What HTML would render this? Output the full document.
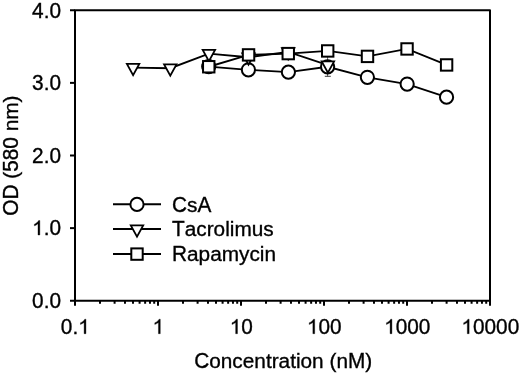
<!DOCTYPE html>
<html><head><meta charset="utf-8"><style>
html,body{margin:0;padding:0;background:#fff;}
svg{display:block;will-change:transform;}
text{font-family:"Liberation Sans",sans-serif;font-size:20.8px;fill:#000;stroke:#000;stroke-width:0.35px;}
</style></head><body>
<svg width="520" height="374" viewBox="0 0 520 374">
<path d="M75 10.25H490V300.75H75Z" fill="none" stroke="#000" stroke-width="2.0" stroke-linejoin="round"/>
<line x1="70" y1="300.75" x2="75" y2="300.75" stroke="#000" stroke-width="2.0"/>
<line x1="70" y1="228.125" x2="75" y2="228.125" stroke="#000" stroke-width="2.0"/>
<line x1="70" y1="155.5" x2="75" y2="155.5" stroke="#000" stroke-width="2.0"/>
<line x1="70" y1="82.875" x2="75" y2="82.875" stroke="#000" stroke-width="2.0"/>
<line x1="70" y1="10.25" x2="75" y2="10.25" stroke="#000" stroke-width="2.0"/>
<line x1="75.0" y1="300.75" x2="75.0" y2="305.75" stroke="#000" stroke-width="2.0"/>
<line x1="99.99" y1="300.75" x2="99.99" y2="303.75" stroke="#000" stroke-width="2.0"/>
<line x1="114.60" y1="300.75" x2="114.60" y2="303.75" stroke="#000" stroke-width="2.0"/>
<line x1="124.97" y1="300.75" x2="124.97" y2="303.75" stroke="#000" stroke-width="2.0"/>
<line x1="133.01" y1="300.75" x2="133.01" y2="303.75" stroke="#000" stroke-width="2.0"/>
<line x1="139.59" y1="300.75" x2="139.59" y2="303.75" stroke="#000" stroke-width="2.0"/>
<line x1="145.14" y1="300.75" x2="145.14" y2="303.75" stroke="#000" stroke-width="2.0"/>
<line x1="149.96" y1="300.75" x2="149.96" y2="303.75" stroke="#000" stroke-width="2.0"/>
<line x1="154.20" y1="300.75" x2="154.20" y2="303.75" stroke="#000" stroke-width="2.0"/>
<line x1="158.0" y1="300.75" x2="158.0" y2="305.75" stroke="#000" stroke-width="2.0"/>
<line x1="182.99" y1="300.75" x2="182.99" y2="303.75" stroke="#000" stroke-width="2.0"/>
<line x1="197.60" y1="300.75" x2="197.60" y2="303.75" stroke="#000" stroke-width="2.0"/>
<line x1="207.97" y1="300.75" x2="207.97" y2="303.75" stroke="#000" stroke-width="2.0"/>
<line x1="216.01" y1="300.75" x2="216.01" y2="303.75" stroke="#000" stroke-width="2.0"/>
<line x1="222.59" y1="300.75" x2="222.59" y2="303.75" stroke="#000" stroke-width="2.0"/>
<line x1="228.14" y1="300.75" x2="228.14" y2="303.75" stroke="#000" stroke-width="2.0"/>
<line x1="232.96" y1="300.75" x2="232.96" y2="303.75" stroke="#000" stroke-width="2.0"/>
<line x1="237.20" y1="300.75" x2="237.20" y2="303.75" stroke="#000" stroke-width="2.0"/>
<line x1="241.0" y1="300.75" x2="241.0" y2="305.75" stroke="#000" stroke-width="2.0"/>
<line x1="265.99" y1="300.75" x2="265.99" y2="303.75" stroke="#000" stroke-width="2.0"/>
<line x1="280.60" y1="300.75" x2="280.60" y2="303.75" stroke="#000" stroke-width="2.0"/>
<line x1="290.97" y1="300.75" x2="290.97" y2="303.75" stroke="#000" stroke-width="2.0"/>
<line x1="299.01" y1="300.75" x2="299.01" y2="303.75" stroke="#000" stroke-width="2.0"/>
<line x1="305.59" y1="300.75" x2="305.59" y2="303.75" stroke="#000" stroke-width="2.0"/>
<line x1="311.14" y1="300.75" x2="311.14" y2="303.75" stroke="#000" stroke-width="2.0"/>
<line x1="315.96" y1="300.75" x2="315.96" y2="303.75" stroke="#000" stroke-width="2.0"/>
<line x1="320.20" y1="300.75" x2="320.20" y2="303.75" stroke="#000" stroke-width="2.0"/>
<line x1="324.0" y1="300.75" x2="324.0" y2="305.75" stroke="#000" stroke-width="2.0"/>
<line x1="348.99" y1="300.75" x2="348.99" y2="303.75" stroke="#000" stroke-width="2.0"/>
<line x1="363.60" y1="300.75" x2="363.60" y2="303.75" stroke="#000" stroke-width="2.0"/>
<line x1="373.97" y1="300.75" x2="373.97" y2="303.75" stroke="#000" stroke-width="2.0"/>
<line x1="382.01" y1="300.75" x2="382.01" y2="303.75" stroke="#000" stroke-width="2.0"/>
<line x1="388.59" y1="300.75" x2="388.59" y2="303.75" stroke="#000" stroke-width="2.0"/>
<line x1="394.14" y1="300.75" x2="394.14" y2="303.75" stroke="#000" stroke-width="2.0"/>
<line x1="398.96" y1="300.75" x2="398.96" y2="303.75" stroke="#000" stroke-width="2.0"/>
<line x1="403.20" y1="300.75" x2="403.20" y2="303.75" stroke="#000" stroke-width="2.0"/>
<line x1="407.0" y1="300.75" x2="407.0" y2="305.75" stroke="#000" stroke-width="2.0"/>
<line x1="431.99" y1="300.75" x2="431.99" y2="303.75" stroke="#000" stroke-width="2.0"/>
<line x1="446.60" y1="300.75" x2="446.60" y2="303.75" stroke="#000" stroke-width="2.0"/>
<line x1="456.97" y1="300.75" x2="456.97" y2="303.75" stroke="#000" stroke-width="2.0"/>
<line x1="465.01" y1="300.75" x2="465.01" y2="303.75" stroke="#000" stroke-width="2.0"/>
<line x1="471.59" y1="300.75" x2="471.59" y2="303.75" stroke="#000" stroke-width="2.0"/>
<line x1="477.14" y1="300.75" x2="477.14" y2="303.75" stroke="#000" stroke-width="2.0"/>
<line x1="481.96" y1="300.75" x2="481.96" y2="303.75" stroke="#000" stroke-width="2.0"/>
<line x1="486.20" y1="300.75" x2="486.20" y2="303.75" stroke="#000" stroke-width="2.0"/>
<line x1="490.0" y1="300.75" x2="490.0" y2="305.75" stroke="#000" stroke-width="2.0"/>
<text transform="translate(32.09 308.05) scale(1.0 1.06)">0</text>
<text transform="translate(43.65 308.05)">.</text>
<text transform="translate(49.43 308.05) scale(1.0 1.06)">0</text>
<path d="M39.83 235.03L38.01 235.03L38.01 223.73C37.57 224.13 36.99 224.55 36.28 224.95C35.57 225.36 34.93 225.66 34.37 225.86L34.37 224.14C35.39 223.68 36.27 223.12 37.03 222.46C37.79 221.80 38.33 221.15 38.65 220.53L39.83 220.53Z" stroke="#000" stroke-width="0.35"/>
<text transform="translate(43.65 235.03)">.</text>
<text transform="translate(49.43 235.03) scale(1.0 1.06)">0</text>
<text transform="translate(32.09 162.80) scale(1.0 1.06)">2</text>
<text transform="translate(43.65 162.80)">.</text>
<text transform="translate(49.43 162.80) scale(1.0 1.06)">0</text>
<text transform="translate(32.09 90.28) scale(1.0 1.06)">3</text>
<text transform="translate(43.65 90.28)">.</text>
<text transform="translate(49.43 90.28) scale(1.0 1.06)">0</text>
<text transform="translate(32.09 17.95) scale(1.0 1.06)">4</text>
<text transform="translate(43.65 17.95)">.</text>
<text transform="translate(49.43 17.95) scale(1.0 1.06)">0</text>
<text transform="translate(60.84 333.70) scale(1.0 1.03)">0</text>
<text transform="translate(72.41 333.70)">.</text>
<path d="M85.94 333.70L84.11 333.70L84.11 322.40C83.67 322.80 83.09 323.22 82.38 323.62C81.67 324.03 81.03 324.33 80.47 324.53L80.47 322.81C81.49 322.35 82.37 321.79 83.14 321.13C83.90 320.47 84.44 319.82 84.75 319.20L85.94 319.20Z" stroke="#000" stroke-width="0.35"/>
<path d="M160.27 333.70L158.44 333.70L158.44 322.40C158.00 322.80 157.42 323.22 156.71 323.62C156.00 324.03 155.36 324.33 154.80 324.53L154.80 322.81C155.82 322.35 156.70 321.79 157.46 321.13C158.22 320.47 158.76 319.82 159.08 319.20L160.27 319.20Z" stroke="#000" stroke-width="0.35"/>
<path d="M237.48 333.70L235.65 333.70L235.65 322.40C235.22 322.80 234.64 323.22 233.93 323.62C233.22 324.03 232.58 324.33 232.02 324.53L232.02 322.81C233.03 322.35 233.92 321.79 234.68 321.13C235.44 320.47 235.98 319.82 236.29 319.20L237.48 319.20Z" stroke="#000" stroke-width="0.35"/>
<text transform="translate(241.30 333.70) scale(1.0 1.03)">0</text>
<path d="M314.70 333.70L312.87 333.70L312.87 322.40C312.43 322.80 311.85 323.22 311.14 323.62C310.43 324.03 309.79 324.33 309.23 324.53L309.23 322.81C310.25 322.35 311.13 321.79 311.89 321.13C312.66 320.47 313.19 319.82 313.51 319.20L314.70 319.20Z" stroke="#000" stroke-width="0.35"/>
<text transform="translate(318.52 333.70) scale(1.0 1.03)">0</text>
<text transform="translate(330.08 333.70) scale(1.0 1.03)">0</text>
<path d="M391.91 333.70L390.09 333.70L390.09 322.40C389.65 322.80 389.07 323.22 388.36 323.62C387.65 324.03 387.01 324.33 386.45 324.53L386.45 322.81C387.46 322.35 388.35 321.79 389.11 321.13C389.87 320.47 390.41 319.82 390.73 319.20L391.91 319.20Z" stroke="#000" stroke-width="0.35"/>
<text transform="translate(395.73 333.70) scale(1.0 1.03)">0</text>
<text transform="translate(407.30 333.70) scale(1.0 1.03)">0</text>
<text transform="translate(418.87 333.70) scale(1.0 1.03)">0</text>
<path d="M469.13 333.70L467.30 333.70L467.30 322.40C466.86 322.80 466.29 323.22 465.57 323.62C464.86 324.03 464.22 324.33 463.67 324.53L463.67 322.81C464.68 322.35 465.56 321.79 466.33 321.13C467.09 320.47 467.63 319.82 467.94 319.20L469.13 319.20Z" stroke="#000" stroke-width="0.35"/>
<text transform="translate(472.95 333.70) scale(1.0 1.03)">0</text>
<text transform="translate(484.52 333.70) scale(1.0 1.03)">0</text>
<text transform="translate(496.08 333.70) scale(1.0 1.03)">0</text>
<text transform="translate(507.65 333.70) scale(1.0 1.03)">0</text>
<text transform="translate(194.19 367.80) scale(1.0 1.05)">C</text>
<text transform="translate(209.21 367.80) scale(1.0 0.95)">o</text>
<text transform="translate(220.77 367.80) scale(1.0 0.95)">n</text>
<text transform="translate(232.34 367.80) scale(1.0 0.95)">c</text>
<text transform="translate(242.74 367.80) scale(1.0 0.95)">e</text>
<text transform="translate(254.31 367.80) scale(1.0 0.95)">n</text>
<text transform="translate(265.88 367.80)">t</text>
<text transform="translate(271.66 367.80) scale(1.0 0.95)">r</text>
<text transform="translate(278.58 367.80) scale(1.0 0.95)">a</text>
<text transform="translate(290.15 367.80)">t</text>
<text transform="translate(295.93 367.80) scale(1.0 0.99)">i</text>
<text transform="translate(300.55 367.80) scale(1.0 0.95)">o</text>
<text transform="translate(312.12 367.80) scale(1.0 0.95)">n</text>
<text transform="translate(329.47 367.80)">(</text>
<text transform="translate(336.39 367.80) scale(1.0 0.95)">n</text>
<text transform="translate(347.96 367.80) scale(1.0 1.05)">M</text>
<text transform="translate(365.29 367.80)">)</text>
<g transform="translate(17.7 155.6) rotate(-90)"><text transform="translate(-60.10 0.00) scale(1.0 1.05)">O</text><text transform="translate(-43.93 0.00) scale(1.0 1.05)">D</text><text transform="translate(-23.13 0.00)">(</text><text transform="translate(-16.20 0.00) scale(1.0 1.06)">5</text><text transform="translate(-4.63 0.00) scale(1.0 1.06)">8</text><text transform="translate(6.94 0.00) scale(1.0 1.06)">0</text><text transform="translate(24.28 0.00) scale(1.0 0.95)">n</text><text transform="translate(35.85 0.00) scale(1.0 0.95)">m</text><text transform="translate(53.18 0.00)">)</text></g>
<path d="M208.7 66.6L248.4 69.8L288.4 72.1L327.6 66.8L367.4 77.3L407.15 84.05L446.55 97.15" fill="none" stroke="#000" stroke-width="1.85"/>
<path d="M133.1 67.6L170.3 68.2L208.9 53.7L248.5 57.2L288.2 51.9L327.9 65.2" fill="none" stroke="#000" stroke-width="1.85"/>
<path d="M208.75 66.75L248.55 54.9L288.25 53.6L327.7 50.95L367.5 56.4L407.05 48.95L446.6 64.95" fill="none" stroke="#000" stroke-width="1.85"/>
<path d="M327.6 54V76.3" stroke="#333" stroke-width="0.8"/><path d="M324.8 76.3H330.8" stroke="#222" stroke-width="0.9"/>
<circle cx="208.7" cy="66.6" r="6.6" fill="#fff" stroke="#000" stroke-width="2.0"/>
<circle cx="248.4" cy="69.8" r="6.6" fill="#fff" stroke="#000" stroke-width="2.0"/>
<circle cx="288.4" cy="72.1" r="6.6" fill="#fff" stroke="#000" stroke-width="2.0"/>
<circle cx="327.6" cy="66.8" r="6.6" fill="#fff" stroke="#000" stroke-width="2.0"/>
<circle cx="367.4" cy="77.3" r="6.6" fill="#fff" stroke="#000" stroke-width="2.0"/>
<circle cx="407.15" cy="84.05" r="6.6" fill="#fff" stroke="#000" stroke-width="2.0"/>
<circle cx="446.55" cy="97.15" r="6.6" fill="#fff" stroke="#000" stroke-width="2.0"/>
<path d="M126.90 63.87H139.30L133.1 75.07Z" fill="#fff" stroke="#000" stroke-width="1.8"/>
<path d="M164.10 64.47H176.50L170.3 75.67Z" fill="#fff" stroke="#000" stroke-width="1.8"/>
<path d="M202.70 49.97H215.10L208.9 61.17Z" fill="#fff" stroke="#000" stroke-width="1.8"/>
<path d="M242.30 53.47H254.70L248.5 64.67Z" fill="#fff" stroke="#000" stroke-width="1.8"/>
<path d="M282.00 48.17H294.40L288.2 59.37Z" fill="#fff" stroke="#000" stroke-width="1.8"/>
<path d="M321.70 61.47H334.10L327.9 72.67Z" fill="#fff" stroke="#000" stroke-width="1.8"/>
<rect x="203.05" y="61.05" width="11.4" height="11.4" fill="#fff" stroke="#000" stroke-width="2.0"/>
<rect x="242.85" y="49.20" width="11.4" height="11.4" fill="#fff" stroke="#000" stroke-width="2.0"/>
<rect x="282.55" y="47.90" width="11.4" height="11.4" fill="#fff" stroke="#000" stroke-width="2.0"/>
<rect x="322.00" y="45.25" width="11.4" height="11.4" fill="#fff" stroke="#000" stroke-width="2.0"/>
<rect x="361.80" y="50.70" width="11.4" height="11.4" fill="#fff" stroke="#000" stroke-width="2.0"/>
<rect x="401.35" y="43.25" width="11.4" height="11.4" fill="#fff" stroke="#000" stroke-width="2.0"/>
<rect x="440.90" y="59.25" width="11.4" height="11.4" fill="#fff" stroke="#000" stroke-width="2.0"/>
<line x1="113" y1="204.2" x2="161" y2="204.2" stroke="#000" stroke-width="2.0"/>
<line x1="113" y1="229" x2="161" y2="229" stroke="#000" stroke-width="2.0"/>
<line x1="113" y1="254" x2="161" y2="254" stroke="#000" stroke-width="2.0"/>
<circle cx="137" cy="204.4" r="6.6" fill="#fff" stroke="#000" stroke-width="2.0"/>
<path d="M130.80 225.37H143.20L137 236.57Z" fill="#fff" stroke="#000" stroke-width="1.8"/>
<rect x="131.30" y="248.40" width="11.4" height="11.4" fill="#fff" stroke="#000" stroke-width="2.0"/>
<text transform="translate(172.00 211.60) scale(1.0 1.05)">C</text>
<text transform="translate(187.02 211.60) scale(1.0 0.95)">s</text>
<text transform="translate(197.42 211.60) scale(1.0 1.05)">A</text>
<text transform="translate(172.00 236.40) scale(1.0 1.05)">T</text>
<text transform="translate(184.71 236.40) scale(1.0 0.95)">a</text>
<text transform="translate(196.27 236.40) scale(1.0 0.95)">c</text>
<text transform="translate(206.67 236.40) scale(1.0 0.95)">r</text>
<text transform="translate(213.60 236.40) scale(1.0 0.95)">o</text>
<text transform="translate(225.17 236.40) scale(1.0 0.99)">l</text>
<text transform="translate(229.79 236.40) scale(1.0 0.99)">i</text>
<text transform="translate(234.41 236.40) scale(1.0 0.95)">m</text>
<text transform="translate(251.74 236.40) scale(1.0 0.95)">u</text>
<text transform="translate(263.30 236.40) scale(1.0 0.95)">s</text>
<text transform="translate(172.00 261.40) scale(1.0 1.05)">R</text>
<text transform="translate(187.02 261.40) scale(1.0 0.95)">a</text>
<text transform="translate(198.59 261.40) scale(1.0 0.95)">p</text>
<text transform="translate(210.16 261.40) scale(1.0 0.95)">a</text>
<text transform="translate(221.73 261.40) scale(1.0 0.95)">m</text>
<text transform="translate(239.05 261.40) scale(1.0 0.95)">y</text>
<text transform="translate(249.45 261.40) scale(1.0 0.95)">c</text>
<text transform="translate(259.85 261.40) scale(1.0 0.99)">i</text>
<text transform="translate(264.47 261.40) scale(1.0 0.95)">n</text>
</svg>
</body></html>
